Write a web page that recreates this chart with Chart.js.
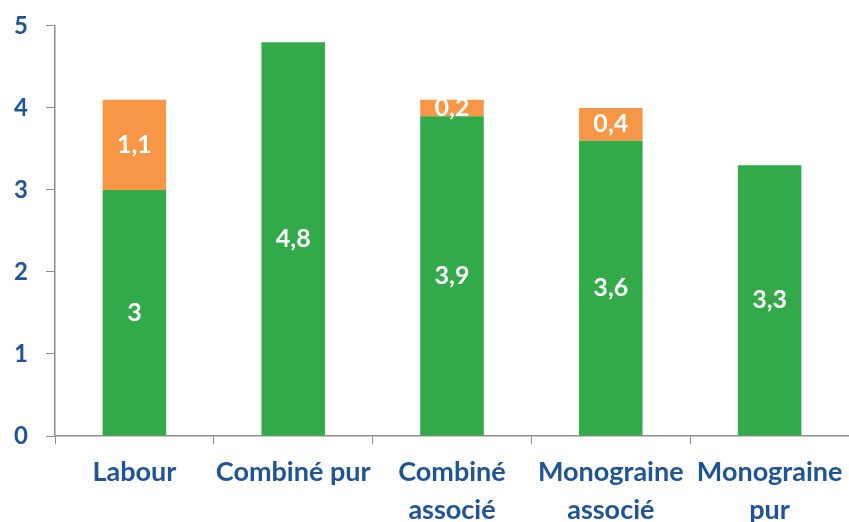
<!DOCTYPE html>
<html>
<head>
<meta charset="utf-8">
<script src="https://cdn.jsdelivr.net/npm/chart.js@4"></script>
<style>
    html, body { margin: 0; padding: 0; background: #fff; }
    #wrap { width: 849px; height: 522px; }
</style>
</head>
<body>
<div id="wrap"><canvas id="chart"></canvas></div>
<script>
'use strict';

const categories = [['Labour'], ['Combiné pur'], ['Combiné', 'associé'], ['Monograine', 'associé'], ['Monograine', 'pur']];
const greenValues = [3, 4.8, 3.9, 3.6, 3.3];
const orangeValues = [1.1, null, 0.2, 0.4, null];
const yTicks = [0, 1, 2, 3, 4, 5];

const blue = '#215497';
const axisGrey = '#8c8c8c';
const decimalFormatter = new Intl.NumberFormat('fr-FR', { maximumFractionDigits: 1 });

// white value labels centred in each bar segment
const segmentLabels = {
    id: 'segmentLabels',
    afterDatasetsDraw(chart) {
        const ctx = chart.ctx;
        ctx.save();
        ctx.fillStyle = '#fff';
        ctx.font = 'bold 25px Lato';
        ctx.textAlign = 'center';
        ctx.textBaseline = 'middle';
        chart.data.datasets.forEach((dataset, i) => {
            const meta = chart.getDatasetMeta(i);
            meta.data.forEach((bar, j) => {
                const value = dataset.data[j];
                if (value === null || value === undefined) return;
                ctx.fillText(decimalFormatter.format(value), bar.x, (bar.y + bar.base) / 2);
            });
        });
        ctx.restore();
    },
};

new Chart(document.getElementById('chart'), {
    type: 'bar',
    data: {
        labels: categories,
        datasets: [
            { data: greenValues, backgroundColor: '#33aa4a' },
            { data: orangeValues, backgroundColor: '#f79646' },
        ],
    },
    options: {
        responsive: true,
        maintainAspectRatio: false,
        animation: false,
        categoryPercentage: 0.4,
        barPercentage: 1,
        layout: {
            padding: 0,
        },
        scales: {
            x: {
                stacked: true,
                afterFit: function (scale) {
                    scale.height = 86;
                    scale.paddingLeft = 0;
                    scale.paddingRight = 0;
                },
                border: { color: axisGrey, width: 1.5 },
                grid: { drawOnChartArea: false, drawTicks: true, tickLength: 8, color: axisGrey, offset: true },
                ticks: {
                    color: blue,
                    font: { family: 'Lato', weight: 'bold', size: 27, lineHeight: 1.38 },
                    padding: 10,
                    maxRotation: 0,
                    autoSkip: false,
                },
            },
            y: {
                stacked: true,
                min: 0,
                max: 5,
                afterFit: function (scale) { scale.width = 55; },
                afterBuildTicks: function (scale) { scale.ticks = yTicks.map(v => ({ value: v })); },
                border: { color: axisGrey, width: 1.5 },
                grid: { drawOnChartArea: false, drawTicks: true, tickLength: 9, color: axisGrey },
                ticks: {
                    color: blue,
                    font: { family: 'Lato', weight: 'bold', size: 24, lineHeight: 0.66 },
                    padding: 18,
                },
            },
        },
        plugins: {
            legend: { display: false },
            tooltip: { enabled: false },
        },
    },
    plugins: [segmentLabels],
});
</script>
</body>
</html>
